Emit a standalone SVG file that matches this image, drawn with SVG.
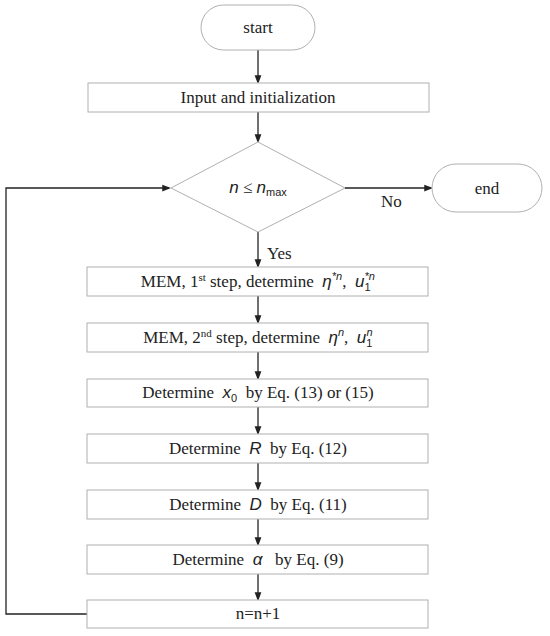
<svg xmlns="http://www.w3.org/2000/svg" width="550" height="636" viewBox="0 0 550 636">
<style>
.box{fill:#fff;stroke:#b0b0b0;stroke-width:1}
.t{font-family:"Liberation Serif",serif;font-size:17px;fill:#222;text-anchor:middle;white-space:pre}
.lbl{font-family:"Liberation Serif",serif;font-size:17px;fill:#222}
.m{font-family:"Liberation Sans",sans-serif;font-style:italic;font-size:17px}
.s{font-size:11px}
.sm{font-family:"Liberation Sans",sans-serif;font-style:italic;font-size:11px}
.sn{font-family:"Liberation Sans",sans-serif;font-style:normal;font-size:11px}
.c{fill:none;stroke:#222;stroke-width:1.3}
</style>
<defs>
<marker id="ah" markerWidth="9" markerHeight="12" refX="9" refY="4.5" orient="auto" markerUnits="userSpaceOnUse" viewBox="0 0 12 9">
<path d="M0,0 L12,4.5 L0,9 Z" fill="#222"/>
</marker>
</defs>
<rect width="550" height="636" fill="#fff"/>
<g id="connectors">
<line class="c" x1="258" y1="50" x2="258" y2="82" marker-end="url(#ah)"/>
<line class="c" x1="258" y1="112" x2="258" y2="141" marker-end="url(#ah)"/>
<line class="c" x1="345" y1="188" x2="431" y2="188" marker-end="url(#ah)"/>
<line class="c" x1="258" y1="232" x2="258" y2="266" marker-end="url(#ah)"/>
<line class="c" x1="258" y1="296" x2="258" y2="322" marker-end="url(#ah)"/>
<line class="c" x1="258" y1="352" x2="258" y2="378" marker-end="url(#ah)"/>
<line class="c" x1="258" y1="407" x2="258" y2="433" marker-end="url(#ah)"/>
<line class="c" x1="258" y1="463" x2="258" y2="489" marker-end="url(#ah)"/>
<line class="c" x1="258" y1="519" x2="258" y2="544" marker-end="url(#ah)"/>
<line class="c" x1="258" y1="574" x2="258" y2="599" marker-end="url(#ah)"/>
<polyline class="c" points="87,614 6,614 6,188 169,188" marker-end="url(#ah)"/>
<text class="lbl" x="267" y="259">Yes</text>
<text class="lbl" x="381" y="207">No</text>
</g>
<g id="start">
<rect class="box" x="201" y="5" width="114" height="45" rx="22.5"/>
<text class="t" x="258" y="33">start</text>
</g>
<g id="input">
<rect class="box" x="88" y="83" width="341" height="29"/>
<text class="t" x="258" y="103">Input and initialization</text>
</g>
<g id="decision">
<polygon class="box" points="258,142 345,188 258,232 171,188"/>
<text class="t" x="258" y="193"><tspan class="m">n</tspan> ≤ <tspan class="m">n</tspan><tspan class="sn" font-size="12" dy="3">max</tspan></text>
</g>
<g id="end">
<rect class="box" x="432" y="164" width="110" height="48" rx="24"/>
<text class="t" x="487" y="194">end</text>
</g>
<g id="mem1">
<rect class="box" x="87" y="267" width="341" height="29"/>
<text class="t" x="260" y="287">MEM, 1<tspan class="s" dy="-6">st</tspan><tspan dy="6"> step, determine  </tspan><tspan class="m">η</tspan><tspan class="sm" dy="-7">*n</tspan><tspan dy="7">,  </tspan><tspan class="m">u</tspan><tspan class="sn" dy="4">1</tspan><tspan class="sm" dx="-6" dy="-11">*n</tspan><tspan dy="7"> </tspan></text>
</g>
<g id="mem2">
<rect class="box" x="87" y="323" width="341" height="29"/>
<text class="t" x="260" y="343">MEM, 2<tspan class="s" dy="-6">nd</tspan><tspan dy="6"> step, determine  </tspan><tspan class="m">η</tspan><tspan class="sm" dy="-7">n</tspan><tspan dy="7">,  </tspan><tspan class="m">u</tspan><tspan class="sn" dy="4">1</tspan><tspan class="sm" dx="-6" dy="-11">n</tspan><tspan dy="7"> </tspan></text>
</g>
<g id="x0">
<rect class="box" x="87" y="379" width="341" height="28"/>
<text class="t" x="258" y="398">Determine  <tspan class="m">x</tspan><tspan class="sn" dy="4">0</tspan><tspan dy="-4">  by Eq. (13) or (15)</tspan></text>
</g>
<g id="R">
<rect class="box" x="87" y="434" width="341" height="29"/>
<text class="t" x="258" y="454">Determine  <tspan class="m">R</tspan>  by Eq. (12)</text>
</g>
<g id="D">
<rect class="box" x="87" y="490" width="341" height="29"/>
<text class="t" x="258" y="510">Determine  <tspan class="m">D</tspan>  by Eq. (11)</text>
</g>
<g id="alpha">
<rect class="box" x="87" y="545" width="341" height="29"/>
<text class="t" x="258" y="565">Determine  <tspan class="m">α</tspan>   by Eq. (9)</text>
</g>
<g id="incr">
<rect class="box" x="87" y="600" width="341" height="28"/>
<text class="t" x="258" y="619">n=n+1</text>
</g>
</svg>
